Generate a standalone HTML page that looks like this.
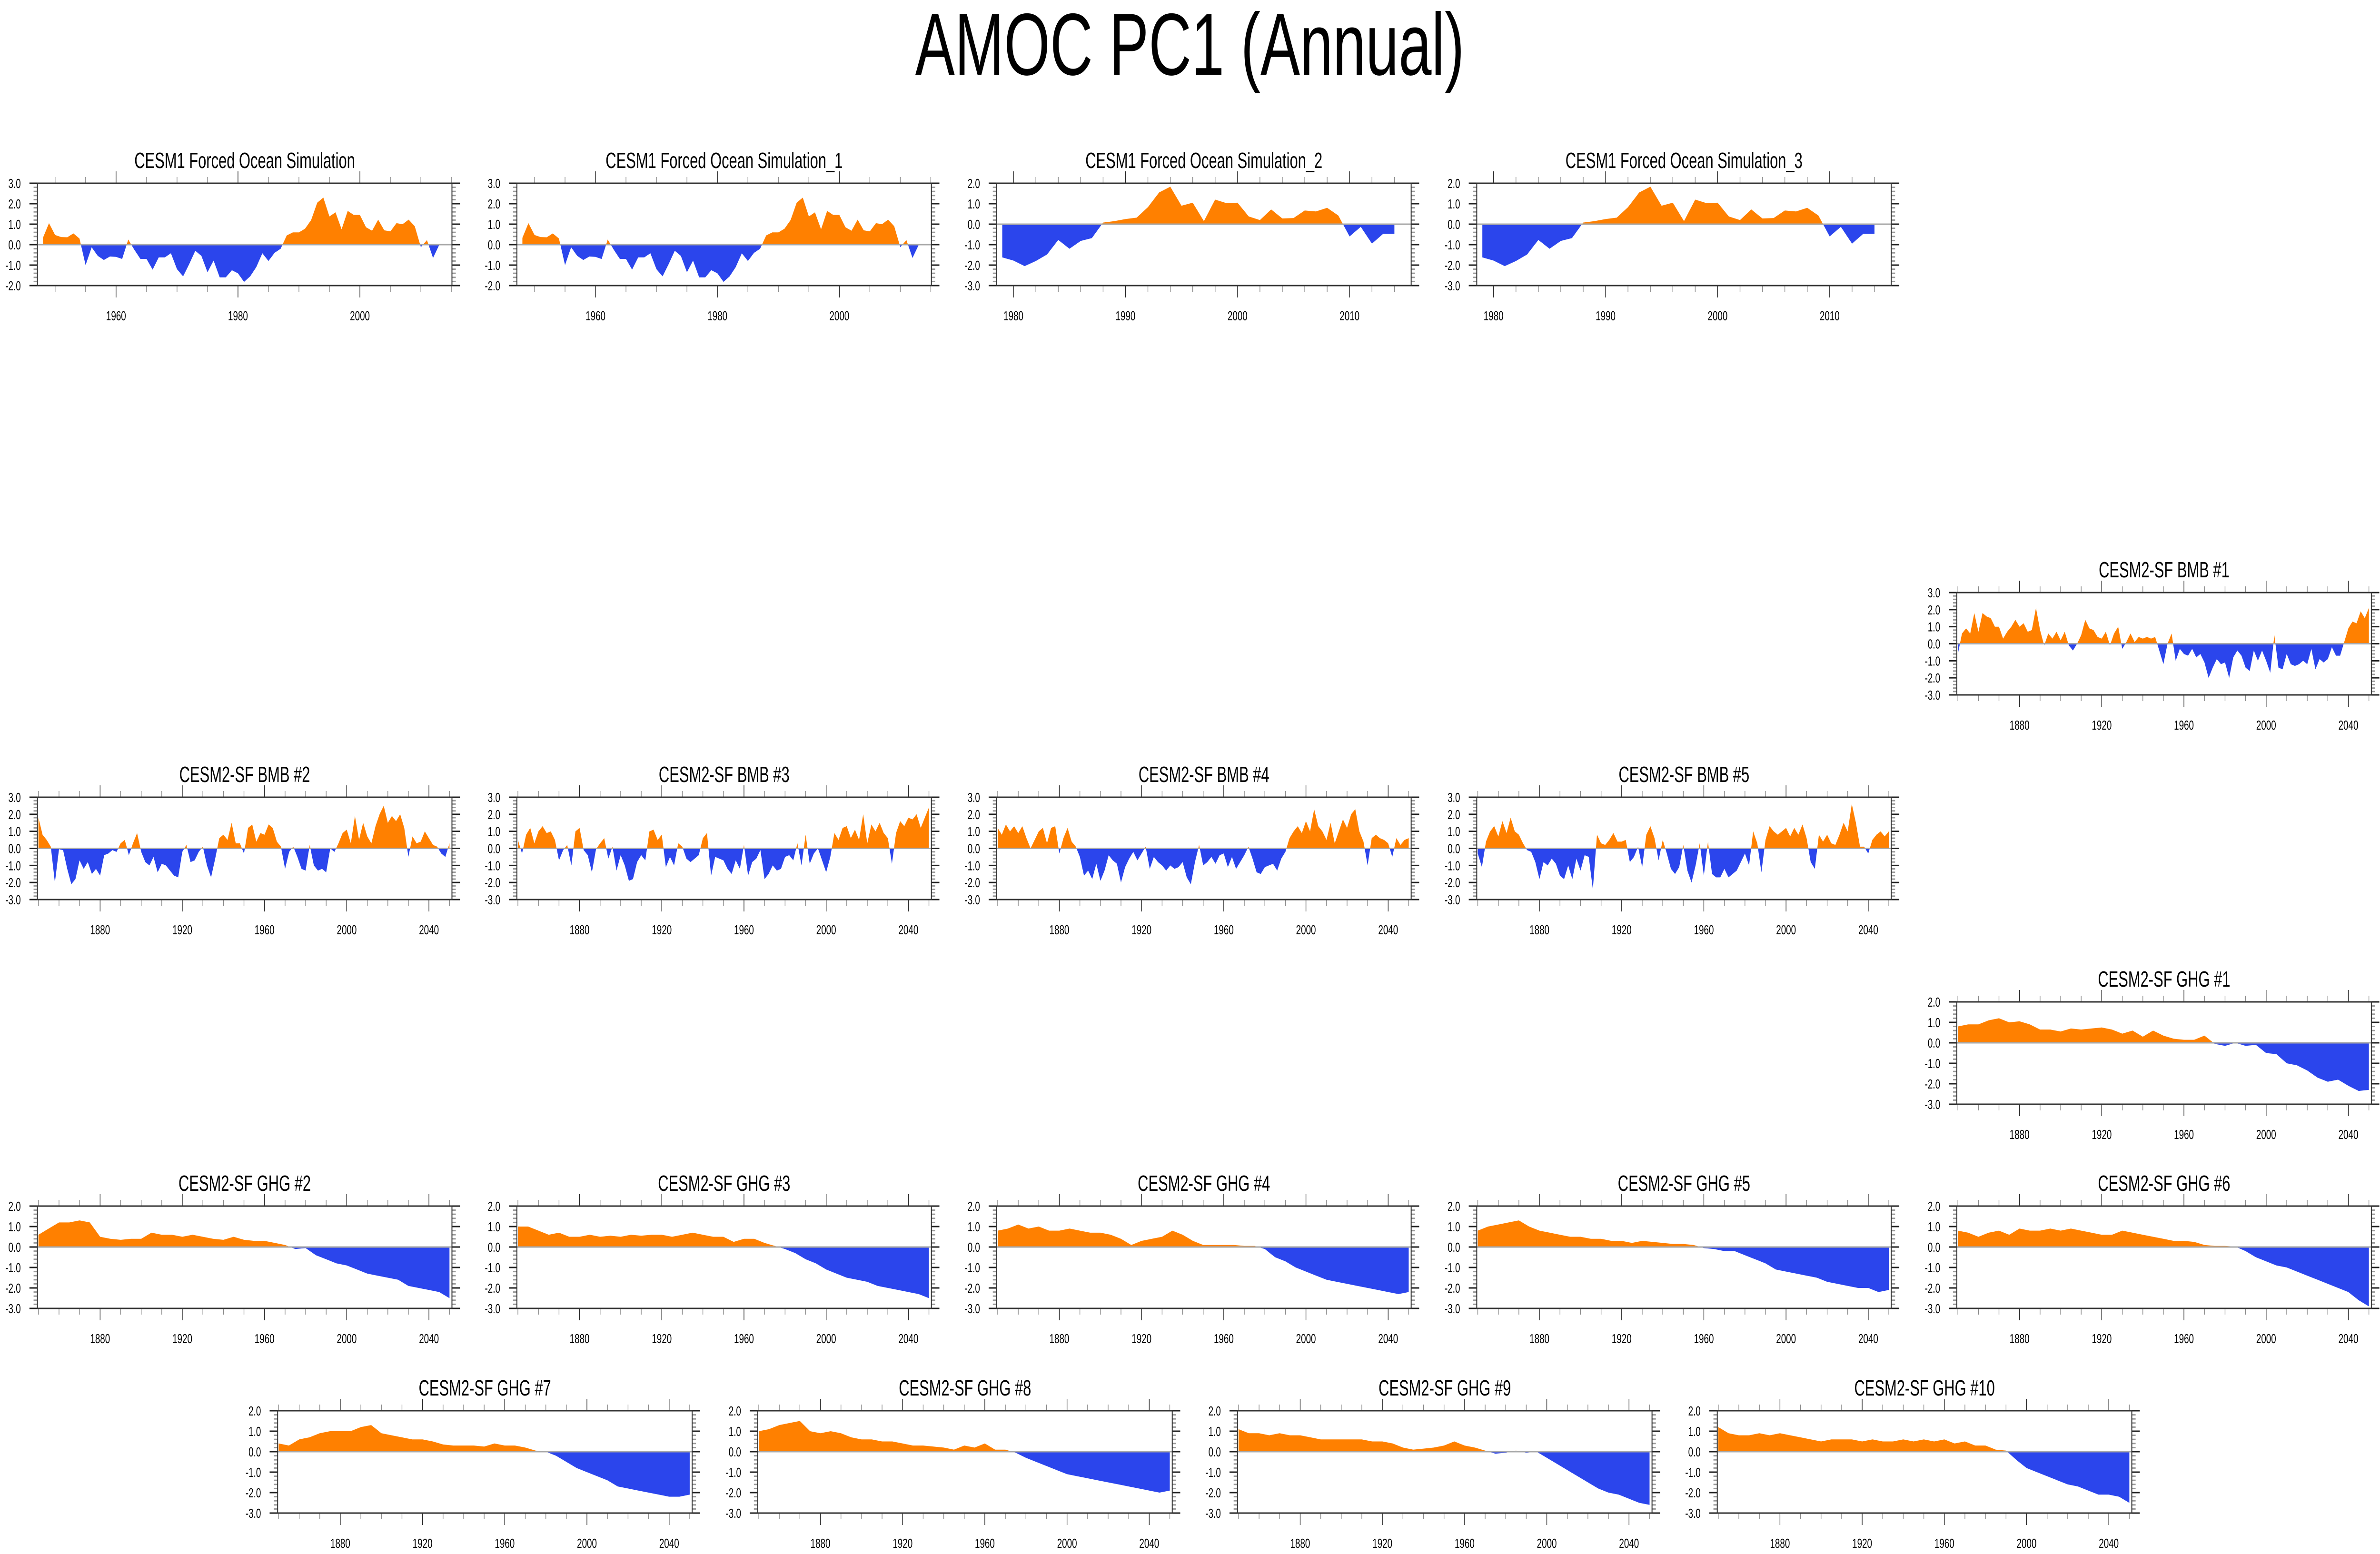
<!DOCTYPE html>
<html><head><meta charset="utf-8">
<title>AMOC PC1 (Annual)</title>
<style>
html,body{margin:0;padding:0;background:#fff;width:100%;height:100%;overflow:hidden;}
svg{display:block;width:100vw;height:100vh;font-family:"Liberation Sans",Arial,sans-serif;}
</style></head>
<body>
<svg id="fig" xmlns="http://www.w3.org/2000/svg" viewBox="0 0 7441 3265" preserveAspectRatio="none">
<rect width="7441" height="3265" fill="#fff"/>
<text x="3720" y="157" font-size="185" text-anchor="middle" fill="#000">AMOC PC1 (Annual)</text>
</svg>
<script>
// ---- data ----
const cesm1Start = 1948;
const cesm1Vals = [0.33,1.05,0.47,0.37,0.36,0.55,0.3,-1.0,-0.13,-0.55,-0.75,-0.58,-0.6,-0.7,0.25,-0.25,-0.7,-0.7,-1.22,-0.62,-0.62,-0.42,-1.2,-1.55,-0.95,-0.3,-0.55,-1.35,-0.78,-1.6,-1.6,-1.25,-1.4,-1.82,-1.55,-1.1,-0.42,-0.8,-0.4,-0.2,0.45,0.6,0.6,0.78,1.2,2.05,2.3,1.38,1.58,0.75,1.65,1.45,1.45,0.85,0.68,1.22,0.7,0.65,1.05,1.0,1.22,0.9,-0.12,0.22,-0.65,-0.02,-0.02];
const cesm1bVals = [0.33,1.05,0.47,0.37,0.36,0.55,0.3,-1.0,-0.13,-0.55,-0.75,-0.58,-0.6,-0.7,0.25,-0.25,-0.7,-0.7,-1.22,-0.62,-0.62,-0.42,-1.2,-1.55,-0.95,-0.3,-0.55,-1.35,-0.78,-1.6,-1.6,-1.25,-1.4,-1.82,-1.55,-1.1,-0.42,-0.8,-0.4,-0.2,0.45,0.6,0.6,0.78,1.2,2.05,2.3,1.38,1.58,0.75,1.65,1.45,1.45,0.85,0.68,1.22,0.7,0.65,1.05,1.0,1.22,0.9,-0.12,0.22,-0.65,-0.02,-0.02];
const cesm1cStart = 1979;
const cesm1cVals = [-1.62,-1.78,-2.05,-1.8,-1.48,-0.77,-1.2,-0.82,-0.68,0.08,0.15,0.25,0.32,0.83,1.55,1.83,0.9,1.05,0.15,1.2,1.03,1.05,0.38,0.2,0.72,0.28,0.3,0.67,0.62,0.8,0.42,-0.6,-0.13,-0.95,-0.47,-0.47];
const cesm1dVals = [-1.62,-1.78,-2.05,-1.8,-1.48,-0.77,-1.2,-0.82,-0.68,0.08,0.15,0.25,0.32,0.83,1.55,1.83,0.9,1.05,0.15,1.2,1.03,1.05,0.38,0.2,0.72,0.28,0.3,0.67,0.62,0.8,0.42,-0.6,-0.13,-0.95,-0.47,-0.47];

const bmbStart = 1850, bmbStep = 2;
const bmb1Vals = [-0.6,0.6,0.9,0.6,1.8,0.7,1.8,1.6,1.5,1.0,1.0,0.3,0.7,1.0,1.4,1.0,1.2,0.7,0.8,2.1,0.8,-0.1,0.6,0.3,0.7,0.2,0.7,-0.1,-0.4,0.0,0.5,1.4,0.9,0.8,0.4,0.3,0.7,-0.1,0.6,1.0,-0.3,0.1,0.6,0.1,0.4,0.3,0.4,0.3,0.4,-0.4,-1.2,0.0,0.6,-1.0,-0.3,-0.6,-0.7,-0.3,-0.8,-0.6,-1.1,-2.0,-1.4,-0.9,-1.2,-1.1,-2.0,-0.8,-0.4,-0.7,-1.4,-1.6,-0.4,-1.0,-0.4,-1.0,-1.7,0.5,-1.4,-1.5,-0.6,-1.2,-1.3,-1.2,-1.0,-1.2,-0.3,-1.5,-0.9,-1.1,-0.9,-0.2,-0.7,-0.7,0.1,0.9,1.3,1.2,1.9,1.5,2.1];
const bmb2Vals = [1.8,0.8,0.5,0.1,-2.0,-0.05,-0.1,-1.2,-2.1,-1.8,-0.7,-1.2,-0.8,-1.5,-1.2,-1.6,-0.4,-0.3,-0.1,-0.2,0.3,0.5,-0.4,0.3,0.9,-0.2,-0.8,-1.0,-0.5,-1.4,-0.9,-1.0,-1.3,-1.6,-1.7,-0.2,0.2,-0.8,-0.7,-0.2,0.1,-1.0,-1.7,-0.6,0.6,0.8,0.5,1.5,0.3,0.3,-0.3,1.2,1.4,0.4,0.9,0.8,1.4,1.2,0.4,0.1,-1.2,-0.2,0.1,-0.5,-1.2,-1.3,0.2,-1.0,-1.3,-1.2,-1.4,0.0,-0.2,0.3,0.9,1.1,0.3,1.9,0.5,1.5,0.7,0.3,1.3,2.0,2.5,1.5,1.9,1.6,2.0,1.2,-0.5,0.7,0.3,0.4,1.0,0.6,0.2,0.1,-0.3,-0.5,0.3];
const bmb3Vals = [0.5,-0.3,0.8,1.2,0.3,1.0,1.3,0.9,1.0,0.5,-0.7,-0.1,0.2,-1.0,1.0,1.2,-0.1,-0.4,-1.4,-0.05,0.3,0.6,-0.6,0.1,-1.3,-0.4,-1.0,-1.9,-1.8,-0.8,-0.4,-0.7,1.0,1.1,0.5,0.8,-1.1,-0.5,-1.0,0.3,0.1,-0.6,-0.8,-0.6,-0.4,0.6,0.9,-1.6,-0.5,-0.6,-0.7,-1.2,-1.5,-0.7,-1.2,0.2,-1.6,-0.8,-0.6,-0.1,-1.8,-1.5,-1.0,-1.3,-1.2,-0.5,-0.4,-0.7,0.3,-1.0,0.8,-0.9,-0.3,0.0,-0.7,-1.4,-0.5,0.9,0.5,1.2,1.3,0.6,1.1,0.5,2.0,0.3,1.4,1.0,1.5,0.9,0.6,-0.9,0.9,1.6,1.3,1.8,1.7,2.0,1.2,1.8,2.4];
const bmb4Vals = [1.2,0.8,1.4,1.0,1.3,0.9,1.3,0.6,0.0,0.5,1.0,1.2,0.3,1.2,1.3,-0.3,0.6,1.2,0.4,0.1,-0.5,-1.6,-1.3,-1.8,-0.9,-1.9,-1.3,-0.4,-0.7,-0.9,-2.0,-1.1,-0.6,-0.2,-0.7,-0.3,0.1,-1.2,-0.5,-0.8,-1.0,-1.3,-1.0,-1.2,-1.1,-0.8,-1.7,-2.1,-0.8,0.2,-1.0,-0.8,-0.5,-0.9,-0.4,-0.3,-1.1,-0.5,-1.2,-0.8,-0.4,0.1,-0.6,-1.4,-1.5,-1.1,-1.0,-0.9,-1.3,-0.6,-0.2,0.6,1.0,1.3,0.9,1.6,1.0,2.3,1.3,1.0,0.5,1.5,0.3,1.0,1.7,1.2,2.0,2.3,1.0,0.4,-1.0,0.6,0.8,0.6,0.5,0.3,-0.5,0.6,0.2,0.5,0.6];
const bmb5Vals = [-0.3,-1.1,0.4,1.0,1.3,0.7,1.6,0.9,1.8,1.0,0.8,0.3,-0.1,-0.2,-0.8,-1.8,-0.8,-1.0,-0.6,-0.9,-1.6,-1.8,-1.0,-1.8,-0.6,-1.3,-0.4,-0.5,-2.4,0.8,0.3,0.2,0.5,0.9,0.4,0.4,0.5,-0.8,-0.5,0.1,-1.1,0.8,1.3,0.6,-0.7,0.5,-0.3,-1.2,-1.5,-1.1,0.2,-1.3,-2.0,-1.0,0.3,-1.6,0.4,-1.5,-1.7,-1.7,-1.2,-1.7,-1.5,-1.3,-0.8,-0.3,-1.0,1.0,0.3,-1.4,0.5,1.3,1.0,0.8,1.0,1.2,0.7,1.2,0.8,1.4,0.6,-0.8,-1.2,0.8,0.4,0.8,0.3,0.2,0.8,1.5,1.0,2.6,1.5,0.1,0.1,-0.3,0.5,0.8,1.0,0.7,1.0];

const ghgStart = 1850, ghgStep = 5;
const ghg1Vals = [0.8,0.9,0.9,1.1,1.2,1.0,1.05,0.9,0.65,0.65,0.55,0.7,0.65,0.7,0.75,0.65,0.45,0.6,0.3,0.6,0.35,0.2,0.15,0.15,0.35,-0.05,-0.15,0.0,-0.15,-0.1,-0.5,-0.55,-1.0,-1.1,-1.35,-1.7,-1.9,-1.8,-2.1,-2.35,-2.3];
const ghg2Vals = [0.6,0.9,1.2,1.2,1.3,1.2,0.5,0.4,0.35,0.4,0.4,0.7,0.6,0.6,0.5,0.6,0.5,0.4,0.35,0.5,0.35,0.3,0.3,0.2,0.1,-0.1,-0.05,-0.4,-0.6,-0.8,-0.9,-1.1,-1.3,-1.4,-1.5,-1.6,-1.9,-2.0,-2.1,-2.2,-2.5];
const ghg3Vals = [1.0,1.0,0.8,0.6,0.7,0.5,0.5,0.6,0.5,0.55,0.5,0.6,0.55,0.6,0.6,0.5,0.6,0.7,0.6,0.5,0.5,0.25,0.4,0.4,0.2,0.05,-0.1,-0.3,-0.6,-0.8,-1.1,-1.3,-1.5,-1.6,-1.7,-1.9,-2.0,-2.1,-2.2,-2.3,-2.5];
const ghg4Vals = [0.8,0.9,1.1,0.9,1.0,0.8,0.8,0.9,0.8,0.7,0.7,0.6,0.4,0.1,0.3,0.4,0.5,0.8,0.6,0.3,0.1,0.1,0.1,0.1,0.05,0.05,-0.1,-0.5,-0.7,-1.0,-1.2,-1.4,-1.6,-1.7,-1.8,-1.9,-2.0,-2.1,-2.2,-2.3,-2.2];
const ghg5Vals = [0.8,1.0,1.1,1.2,1.3,1.0,0.8,0.7,0.6,0.5,0.5,0.4,0.4,0.3,0.3,0.2,0.3,0.25,0.2,0.15,0.15,0.1,-0.05,-0.1,-0.2,-0.2,-0.4,-0.6,-0.8,-1.1,-1.2,-1.3,-1.4,-1.5,-1.7,-1.8,-1.9,-2.0,-2.0,-2.2,-2.1];
const ghg6Vals = [0.8,0.7,0.5,0.7,0.8,0.6,0.9,0.8,0.8,0.9,0.8,0.9,0.8,0.7,0.6,0.6,0.8,0.7,0.6,0.5,0.4,0.3,0.3,0.25,0.1,0.05,0.05,0.02,-0.2,-0.5,-0.7,-0.9,-1.0,-1.2,-1.4,-1.6,-1.8,-2.0,-2.2,-2.6,-2.9];
const ghg7Vals = [0.4,0.3,0.6,0.7,0.9,1.0,1.0,1.0,1.2,1.3,0.9,0.8,0.7,0.6,0.6,0.5,0.35,0.3,0.3,0.3,0.25,0.4,0.3,0.3,0.2,0.05,0.0,-0.2,-0.5,-0.8,-1.0,-1.2,-1.4,-1.7,-1.8,-1.9,-2.0,-2.1,-2.2,-2.2,-2.1];
const ghg8Vals = [1.0,1.1,1.3,1.4,1.5,1.0,0.9,1.0,0.9,0.7,0.6,0.6,0.5,0.5,0.4,0.3,0.3,0.25,0.2,0.1,0.3,0.2,0.4,0.1,0.1,-0.05,-0.3,-0.5,-0.7,-0.9,-1.1,-1.2,-1.3,-1.4,-1.5,-1.6,-1.7,-1.8,-1.9,-2.0,-1.9];
const ghg9Vals = [1.1,0.9,0.9,0.8,0.9,0.8,0.8,0.7,0.6,0.6,0.6,0.6,0.6,0.5,0.5,0.4,0.2,0.1,0.15,0.2,0.3,0.5,0.3,0.2,0.05,-0.1,-0.05,0.05,-0.05,0.0,-0.3,-0.6,-0.9,-1.2,-1.5,-1.8,-2.0,-2.1,-2.3,-2.5,-2.6];
const ghg10Vals = [1.2,0.9,0.8,0.8,0.9,0.8,0.9,0.8,0.7,0.6,0.5,0.6,0.6,0.6,0.5,0.6,0.5,0.5,0.6,0.5,0.6,0.5,0.6,0.4,0.5,0.3,0.3,0.1,0.05,-0.4,-0.8,-1.0,-1.2,-1.4,-1.6,-1.7,-1.9,-2.1,-2.1,-2.2,-2.5];

const cesm1XTicks = [1960,1980,2000];
const cesm1cXTicks = [1980,1990,2000,2010];
const longXTicks = [1880,1920,1960,2000,2040];

// ---- layout ----
const NS = 'http://www.w3.org/2000/svg';
const svg = document.getElementById('fig');
const PW = 1296, PH = 215;
const ORANGE = '#ff8000', BLUE = '#2b45ec';
let clipId = 0;

function el(tag, attrs, parent){
  const e = document.createElementNS(NS, tag);
  for (const k in attrs) e.setAttribute(k, attrs[k]);
  (parent || svg).appendChild(e);
  return e;
}

function panel(p){
  const g = el('g', {});
  
  
  const sx = v => p.x + (v - p.xmin) / (p.xmax - p.xmin) * PW;
  const sy = v => p.y + (p.ymax - v) / (p.ymax - p.ymin) * PH;
  const y0 = sy(0);
  const t = el('text', {x: p.x + PW/2, y: p.y - 32, 'font-size': 46, 'text-anchor': 'middle', fill: '#000'}, g);
  
  
  t.textContent = p.title;
  let d = 'M' + sx(p.start) + ',' + y0;
  p.vals.forEach((v, i) => { d += ' L' + sx(p.start + i * p.step).toFixed(1) + ',' + sy(v).toFixed(1); });
  d += ' L' + sx(p.start + (p.vals.length - 1) * p.step).toFixed(1) + ',' + y0 + ' Z';
  const idA = 'cA' + (clipId++), idB = 'cB' + (clipId++);
  const defs = el('defs', {}, g);
  const cA = el('clipPath', {id: idA}, defs);
  el('rect', {x: p.x, y: p.y, width: PW, height: y0 - p.y}, cA);
  const cB = el('clipPath', {id: idB}, defs);
  el('rect', {x: p.x, y: y0, width: PW, height: p.y + PH - y0}, cB);
  const pa = el('path', {d: d, fill: ORANGE, 'clip-path': 'url(#' + idA + ')'}, g);
  
  
  const pb = el('path', {d: d, fill: BLUE, 'clip-path': 'url(#' + idB + ')'}, g);
  
  
  const zl = el('line', {x1: p.x, x2: p.x + PW, y1: y0, y2: y0, stroke: '#a8a8a8', 'stroke-width': 3}, g);
  
  
  for (let v = p.ymin; v <= p.ymax + 1e-6; v += 0.2) {
    const vv = Math.round(v * 10) / 10;
    const major = Math.abs(vv - Math.round(vv)) < 1e-6;
    const yy = sy(vv);
    const len = major ? 25 : 12;
    const col = major ? '#222' : '#999';
    el('line', {x1: p.x - len, x2: p.x, y1: yy, y2: yy, stroke: col, 'stroke-width': 3}, g);
    el('line', {x1: p.x + PW, x2: p.x + PW + len, y1: yy, y2: yy, stroke: col, 'stroke-width': 3}, g);
    if (major) {
      const lb = el('text', {x: p.x - 52, y: yy + 10, 'font-size': 28, 'text-anchor': 'end', fill: '#000'}, g);
      
      
      lb.textContent = vv.toFixed(1);
    }
  }
  const first = Math.ceil(p.xmin / p.minor) * p.minor;
  for (let yr = first; yr <= p.xmax; yr += p.minor) {
    const major = p.ticks.indexOf(yr) >= 0;
    const xx = sx(yr);
    const len = major ? 25 : 13;
    const col = major ? '#222' : '#888';
    el('line', {x1: xx, x2: xx, y1: p.y - len, y2: p.y, stroke: col, 'stroke-width': 2}, g);
    el('line', {x1: xx, x2: xx, y1: p.y + PH, y2: p.y + PH + len, stroke: col, 'stroke-width': 2}, g);
  }
  p.ticks.forEach(yr => {
    const lb = el('text', {x: sx(yr), y: p.y + PH + 73, 'font-size': 28, 'text-anchor': 'middle', fill: '#000'}, g);
    
    
    lb.textContent = yr;
  });
  const fr = el('rect', {x: p.x, y: p.y, width: PW, height: PH, fill: 'none', stroke: '#333', 'stroke-width': 3}, g);
  
  
}

const colX = [117, 1616, 3116, 4617, 6118];
const row6X = [868, 2369, 3869, 5369];
const rowY = [385, 1245, 1675, 2105, 2534, 2964];

const cesm1A = {start: cesm1Start, step: 1, xmin: 1947.1, xmax: 2015.1, ymin: -2, ymax: 3, ticks: cesm1XTicks, minor: 5};
const cesm1B = {start: cesm1cStart, step: 1, xmin: 1978.5, xmax: 2015.5, ymin: -3, ymax: 2, ticks: cesm1cXTicks, minor: 2};
const bmbCfg = {start: bmbStart, step: bmbStep, xmin: 1849.5, xmax: 2051.2, ymin: -3, ymax: 3, ticks: longXTicks, minor: 10};
const ghgCfg = {start: ghgStart, step: ghgStep, xmin: 1849.5, xmax: 2051.2, ymin: -3, ymax: 2, ticks: longXTicks, minor: 10};

const panels = [
  Object.assign({name: 'panel-cesm1-forced-ocean', title: 'CESM1 Forced Ocean Simulation', x: colX[0], y: rowY[0], vals: cesm1Vals}, cesm1A),
  Object.assign({name: 'panel-cesm1-forced-ocean-1', title: 'CESM1 Forced Ocean Simulation_1', x: colX[1], y: rowY[0], vals: cesm1bVals}, cesm1A),
  Object.assign({name: 'panel-cesm1-forced-ocean-2', title: 'CESM1 Forced Ocean Simulation_2', x: colX[2], y: rowY[0], vals: cesm1cVals}, cesm1B),
  Object.assign({name: 'panel-cesm1-forced-ocean-3', title: 'CESM1 Forced Ocean Simulation_3', x: colX[3], y: rowY[0], vals: cesm1dVals}, cesm1B),
  Object.assign({name: 'panel-bmb-1', title: 'CESM2-SF BMB #1', x: colX[4], y: rowY[1], vals: bmb1Vals}, bmbCfg),
  Object.assign({name: 'panel-bmb-2', title: 'CESM2-SF BMB #2', x: colX[0], y: rowY[2], vals: bmb2Vals}, bmbCfg),
  Object.assign({name: 'panel-bmb-3', title: 'CESM2-SF BMB #3', x: colX[1], y: rowY[2], vals: bmb3Vals}, bmbCfg),
  Object.assign({name: 'panel-bmb-4', title: 'CESM2-SF BMB #4', x: colX[2], y: rowY[2], vals: bmb4Vals}, bmbCfg),
  Object.assign({name: 'panel-bmb-5', title: 'CESM2-SF BMB #5', x: colX[3], y: rowY[2], vals: bmb5Vals}, bmbCfg),
  Object.assign({name: 'panel-ghg-1', title: 'CESM2-SF GHG #1', x: colX[4], y: rowY[3], vals: ghg1Vals}, ghgCfg),
  Object.assign({name: 'panel-ghg-2', title: 'CESM2-SF GHG #2', x: colX[0], y: rowY[4], vals: ghg2Vals}, ghgCfg),
  Object.assign({name: 'panel-ghg-3', title: 'CESM2-SF GHG #3', x: colX[1], y: rowY[4], vals: ghg3Vals}, ghgCfg),
  Object.assign({name: 'panel-ghg-4', title: 'CESM2-SF GHG #4', x: colX[2], y: rowY[4], vals: ghg4Vals}, ghgCfg),
  Object.assign({name: 'panel-ghg-5', title: 'CESM2-SF GHG #5', x: colX[3], y: rowY[4], vals: ghg5Vals}, ghgCfg),
  Object.assign({name: 'panel-ghg-6', title: 'CESM2-SF GHG #6', x: colX[4], y: rowY[4], vals: ghg6Vals}, ghgCfg),
  Object.assign({name: 'panel-ghg-7', title: 'CESM2-SF GHG #7', x: row6X[0], y: rowY[5], vals: ghg7Vals}, ghgCfg),
  Object.assign({name: 'panel-ghg-8', title: 'CESM2-SF GHG #8', x: row6X[1], y: rowY[5], vals: ghg8Vals}, ghgCfg),
  Object.assign({name: 'panel-ghg-9', title: 'CESM2-SF GHG #9', x: row6X[2], y: rowY[5], vals: ghg9Vals}, ghgCfg),
  Object.assign({name: 'panel-ghg-10', title: 'CESM2-SF GHG #10', x: row6X[3], y: rowY[5], vals: ghg10Vals}, ghgCfg)
];
panels.forEach(panel);
</script>
</body></html>
